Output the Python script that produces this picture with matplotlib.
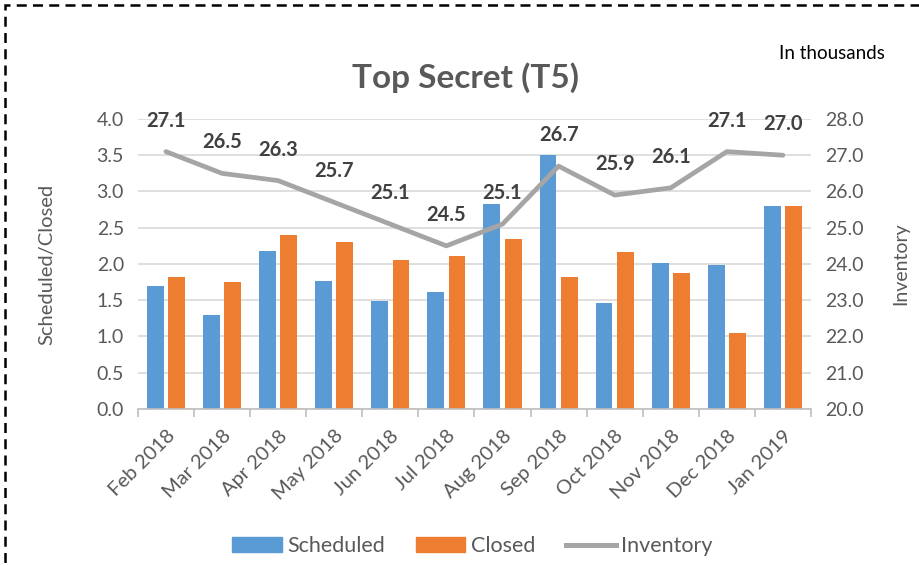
import matplotlib
matplotlib.use("Agg")
import matplotlib.pyplot as plt
from matplotlib.patches import Rectangle
from matplotlib.lines import Line2D
import numpy as np

months = ["Feb 2018", "Mar 2018", "Apr 2018", "May 2018", "Jun 2018", "Jul 2018",
          "Aug 2018", "Sep 2018", "Oct 2018", "Nov 2018", "Dec 2018", "Jan 2019"]
scheduled = [1.70, 1.29, 2.18, 1.77, 1.49, 1.62, 2.83, 3.50, 1.46, 2.01, 1.99, 2.80]
closed = [1.82, 1.75, 2.40, 2.30, 2.05, 2.11, 2.35, 1.82, 2.16, 1.87, 1.05, 2.80]
inventory = [27.1, 26.5, 26.3, 25.7, 25.1, 24.5, 25.1, 26.7, 25.9, 26.1, 27.1, 27.0]
left_ticks = [0.0, 0.5, 1.0, 1.5, 2.0, 2.5, 3.0, 3.5, 4.0]
right_ticks = [20.0, 21.0, 22.0, 23.0, 24.0, 25.0, 26.0, 27.0, 28.0]

plt.rcParams['font.family'] = ['Lato', 'DejaVu Sans']
TXT = "#595959"
BLUE = "#5B9BD5"
ORANGE = "#ED7D31"
GRAY = "#A5A5A5"

fig = plt.figure(figsize=(9.19, 5.66), dpi=100)
ax = fig.add_axes([0.150, 0.2774, 0.7325, 0.5124])
ax2 = ax.twinx()

x = np.arange(len(months))
w = 0.30
off = 0.19
ax.bar(x - off, scheduled, w, color=BLUE, zorder=2, label="Scheduled")
ax.bar(x + off, closed, w, color=ORANGE, zorder=2, label="Closed")

ax.set_xlim(-0.5, len(months) - 0.5)
ax.set_ylim(0, 4.0)
ax.set_yticks(left_ticks)
ax.set_yticklabels([f"{v:.1f}" for v in left_ticks], fontsize=14, color=TXT)
ax.grid(axis='y', color="#D9D9D9", lw=1.2, zorder=0)
ax.set_axisbelow(True)
ax.set_xticks(x)
ax.set_xticklabels(months, rotation=45, ha='right', rotation_mode='anchor',
                   fontsize=14.5, color=TXT)
ax.tick_params(axis='x', length=0, pad=13)
ax.set_xticks(np.arange(-0.5, len(months), 1.0), minor=True)
ax.tick_params(axis='x', which='minor', length=6, color="#BFBFBF", width=1.2)
ax.tick_params(axis='y', length=0, pad=10)
for s in ['top', 'left', 'right']:
    ax.spines[s].set_visible(False)
    ax2.spines[s].set_visible(False)
ax.spines['bottom'].set_color("#BFBFBF")
ax.spines['bottom'].set_linewidth(1.2)
ax2.spines['bottom'].set_visible(False)

ax2.plot(x, inventory, color=GRAY, lw=3.4, solid_capstyle='round', zorder=3)
ax2.set_ylim(20, 28)
ax2.set_yticks(right_ticks)
ax2.set_yticklabels([f"{v:.1f}" for v in right_ticks], fontsize=14, color=TXT)
ax2.tick_params(axis='y', length=0, pad=10)
for xi, v in zip(x, inventory):
    ax2.annotate(f"{v:.1f}", (xi, v), xytext=(0, 31), textcoords='offset pixels',
                 ha='center', va='center', fontsize=14.5, fontweight='bold', color="#404040")

ax.set_ylabel("Scheduled/Closed", fontsize=14.5, color=TXT, labelpad=30)
ax2.set_ylabel("Inventory", fontsize=14, color=TXT, labelpad=21)

fig.text(0.506, 0.862, "Top Secret (T5)", ha='center', va='center',
         fontsize=24, fontweight='bold', color=TXT)
fig.text(0.963, 0.906, "In thousands", ha='right', va='center', fontsize=13.5, color="black")

handles = [Rectangle((0, 0), 1, 1, color=BLUE), Rectangle((0, 0), 1, 1, color=ORANGE),
           Line2D([0], [0], color=GRAY, lw=3.6)]
fig.legend(handles, ["Scheduled", "Closed", "Inventory"], loc='center',
           bbox_to_anchor=(0.514, 0.035), ncol=3, frameon=False, fontsize=15.5,
           labelcolor=TXT, handlelength=2.3, handleheight=0.7, columnspacing=1.45,
           handletextpad=0.25)

# dashed border (left and top visible, extends past right/bottom)
border = Rectangle((5 / 919, -0.1), 1.2, 1 - 5 / 566 + 0.1, transform=fig.transFigure,
                   fill=False, ec='black', lw=1.8, ls=(0, (4, 2.5)), clip_on=False)
fig.patches.append(border)

fig.savefig("out.png", dpi=100)
